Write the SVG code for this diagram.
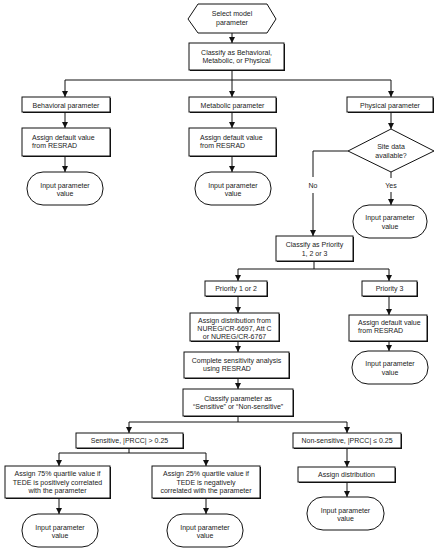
<svg xmlns="http://www.w3.org/2000/svg" width="436" height="550" viewBox="0 0 436 550">
<style>
text{font-family:"Liberation Sans",Arial,sans-serif;font-size:7px;fill:#222}
.c{text-anchor:middle}
.b{fill:#fff;stroke:#111;stroke-width:1}
.s{fill:#111;stroke:none}
.ln{fill:none;stroke:#111;stroke-width:1}
</style>
<defs>
<marker id="ah" viewBox="0 0 6 6" refX="6" refY="3" markerWidth="6" markerHeight="6" markerUnits="userSpaceOnUse" orient="auto">
<path d="M0,0 L6,3 L0,6 z" fill="#111"/>
</marker>
</defs>
<rect width="436" height="550" fill="#fff"/>

<g id="connectors">
<line class="ln" x1="232" y1="33" x2="232" y2="43" marker-end="url(#ah)"/>
<line class="ln" x1="232" y1="70" x2="232" y2="80"/>
<line class="ln" x1="65" y1="80" x2="391" y2="80"/>
<line class="ln" x1="65" y1="80" x2="65" y2="97" marker-end="url(#ah)"/>
<line class="ln" x1="232" y1="80" x2="232" y2="97" marker-end="url(#ah)"/>
<line class="ln" x1="391" y1="80" x2="391" y2="97" marker-end="url(#ah)"/>
<line class="ln" x1="65" y1="112" x2="65" y2="128" marker-end="url(#ah)"/>
<line class="ln" x1="232" y1="112" x2="232" y2="128" marker-end="url(#ah)"/>
<line class="ln" x1="391" y1="112" x2="391" y2="129" marker-end="url(#ah)"/>
<line class="ln" x1="65" y1="156" x2="65" y2="172" marker-end="url(#ah)"/>
<line class="ln" x1="232" y1="156" x2="232" y2="172" marker-end="url(#ah)"/>
<polyline class="ln" points="348,151 313,151 313,177"/>
<line class="ln" x1="313" y1="193" x2="313" y2="236" marker-end="url(#ah)"/>
<line class="ln" x1="391" y1="172" x2="391" y2="178"/>
<line class="ln" x1="391" y1="192" x2="391" y2="205" marker-end="url(#ah)"/>
<line class="ln" x1="314" y1="261" x2="314" y2="269"/>
<line class="ln" x1="238" y1="269" x2="389" y2="269"/>
<line class="ln" x1="238" y1="269" x2="238" y2="281" marker-end="url(#ah)"/>
<line class="ln" x1="389" y1="269" x2="389" y2="281" marker-end="url(#ah)"/>
<line class="ln" x1="238" y1="296" x2="238" y2="313" marker-end="url(#ah)"/>
<line class="ln" x1="389" y1="296" x2="389" y2="315" marker-end="url(#ah)"/>
<line class="ln" x1="389" y1="341" x2="389" y2="351" marker-end="url(#ah)"/>
<line class="ln" x1="238" y1="341" x2="238" y2="352" marker-end="url(#ah)"/>
<line class="ln" x1="238" y1="378" x2="238" y2="389" marker-end="url(#ah)"/>
<line class="ln" x1="238" y1="416" x2="238" y2="422"/>
<line class="ln" x1="129" y1="422" x2="347" y2="422"/>
<line class="ln" x1="129" y1="422" x2="129" y2="433" marker-end="url(#ah)"/>
<line class="ln" x1="347" y1="422" x2="347" y2="433" marker-end="url(#ah)"/>
<line class="ln" x1="129" y1="448" x2="129" y2="453"/>
<line class="ln" x1="59" y1="453" x2="206" y2="453"/>
<line class="ln" x1="59" y1="453" x2="59" y2="466" marker-end="url(#ah)"/>
<line class="ln" x1="206" y1="453" x2="206" y2="466" marker-end="url(#ah)"/>
<line class="ln" x1="59" y1="498" x2="59" y2="514" marker-end="url(#ah)"/>
<line class="ln" x1="206" y1="498" x2="206" y2="514" marker-end="url(#ah)"/>
<line class="ln" x1="347" y1="448" x2="347" y2="467" marker-end="url(#ah)"/>
<line class="ln" x1="347" y1="482" x2="347" y2="497" marker-end="url(#ah)"/>
<text class="c" x="313" y="187.5">No</text>
<text class="c" x="391" y="187.5">Yes</text>
</g>

<g id="start">
<polygon class="b" points="188,19 198,4 267,4 276,19 267,33 198,33"/>
<text class="c" x="232" y="15.5">Select model</text>
<text class="c" x="232" y="24.5">parameter</text>
</g>

<g id="classify-type">
<rect class="s" x="190" y="44" width="95" height="27"/>
<rect class="b" x="189" y="43" width="95" height="27"/>
<text class="c" x="236.5" y="54.5">Classify as Behavioral,</text>
<text class="c" x="236.5" y="62.5">Metabolic, or Physical</text>
</g>

<g id="behavioral">
<rect class="s" x="23" y="98" width="88" height="15"/>
<rect class="b" x="22" y="97" width="88" height="15"/>
<text class="c" x="66" y="107.5">Behavioral parameter</text>
</g>
<g id="metabolic">
<rect class="s" x="190" y="98" width="87" height="15"/>
<rect class="b" x="189" y="97" width="87" height="15"/>
<text class="c" x="232.5" y="107.5">Metabolic parameter</text>
</g>
<g id="physical">
<rect class="s" x="348" y="98" width="86" height="15"/>
<rect class="b" x="347" y="97" width="86" height="15"/>
<text class="c" x="390" y="107.5">Physical parameter</text>
</g>

<g id="assign-beh">
<rect class="s" x="23" y="129" width="88" height="28"/>
<rect class="b" x="22" y="128" width="88" height="28"/>
<text x="32" y="139.5">Assign default value</text>
<text x="32" y="147.5">from RESRAD</text>
</g>
<g id="assign-met">
<rect class="s" x="190" y="129" width="87" height="28"/>
<rect class="b" x="189" y="128" width="87" height="28"/>
<text x="200" y="139.5">Assign default value</text>
<text x="200" y="147.5">from RESRAD</text>
</g>

<g id="input-beh">
<rect class="b" x="27" y="172" width="76" height="33" rx="16" ry="16"/>
<text class="c" x="65" y="187.5">Input parameter</text>
<text class="c" x="65" y="196">value</text>
</g>
<g id="input-met">
<rect class="b" x="195" y="172" width="76" height="33" rx="16" ry="16"/>
<text class="c" x="233" y="187.5">Input parameter</text>
<text class="c" x="233" y="196">value</text>
</g>

<g id="site-data">
<polygon class="b" points="391,129 434,151 391,172 348,151"/>
<text class="c" x="391" y="148.5">Site data</text>
<text class="c" x="391" y="157.5">available?</text>
</g>

<g id="input-site">
<rect class="b" x="353" y="205" width="74" height="33" rx="16" ry="16"/>
<text class="c" x="390" y="219.5">Input parameter</text>
<text class="c" x="390" y="228.5">value</text>
</g>

<g id="classify-priority">
<rect class="s" x="277" y="237" width="77" height="25"/>
<rect class="b" x="276" y="236" width="77" height="25"/>
<text class="c" x="314.5" y="247">Classify as Priority</text>
<text class="c" x="314.5" y="255.5">1, 2 or 3</text>
</g>

<g id="priority12">
<rect class="s" x="206" y="282" width="62" height="15"/>
<rect class="b" x="205" y="281" width="62" height="15"/>
<text class="c" x="236" y="291">Priority 1 or 2</text>
</g>
<g id="priority3">
<rect class="s" x="363" y="282" width="55" height="15"/>
<rect class="b" x="362" y="281" width="55" height="15"/>
<text class="c" x="389.5" y="291">Priority 3</text>
</g>

<g id="assign-dist">
<rect class="s" x="191" y="314" width="89" height="28"/>
<rect class="b" x="190" y="313" width="89" height="28"/>
<text class="c" x="234.5" y="322.5">Assign distribution from</text>
<text class="c" x="234.5" y="330.5">NUREG/CR-6697, Att C</text>
<text class="c" x="234.5" y="338.5">or NUREG/CR-6767</text>
</g>

<g id="assign-p3">
<rect class="s" x="350" y="316" width="78" height="26"/>
<rect class="b" x="349" y="315" width="78" height="26"/>
<text x="358" y="324.5">Assign default value</text>
<text x="358" y="332.5">from RESRAD</text>
</g>
<g id="input-p3">
<rect class="b" x="352" y="351" width="76" height="33" rx="16" ry="16"/>
<text class="c" x="390" y="365.5">Input parameter</text>
<text class="c" x="390" y="374.5">value</text>
</g>

<g id="sensitivity">
<rect class="s" x="185" y="353" width="105" height="26"/>
<rect class="b" x="184" y="352" width="105" height="26"/>
<text class="c" x="236.5" y="362.5">Complete sensitivity analysis</text>
<text x="203" y="370.5">using RESRAD</text>
</g>

<g id="classify-sens">
<rect class="s" x="184" y="390" width="110" height="27"/>
<rect class="b" x="183" y="389" width="110" height="27"/>
<text class="c" x="238" y="400.5">Classify parameter as</text>
<text class="c" x="238" y="408.5">“Sensitive” or “Non-sensitive”</text>
</g>

<g id="sensitive">
<rect class="s" x="77" y="434" width="107" height="15"/>
<rect class="b" x="76" y="433" width="107" height="15"/>
<text class="c" x="129.5" y="443">Sensitive, |PRCC| &gt; 0.25</text>
</g>
<g id="nonsensitive">
<rect class="s" x="294" y="434" width="108" height="15"/>
<rect class="b" x="293" y="433" width="108" height="15"/>
<text class="c" x="347" y="443">Non-sensitive, |PRCC| ≤ 0.25</text>
</g>

<g id="assign75">
<rect class="s" x="6" y="467" width="105" height="32"/>
<rect class="b" x="5" y="466" width="105" height="32"/>
<text class="c" x="57.5" y="476">Assign 75% quartile value if</text>
<text class="c" x="57.5" y="484.5">TEDE is positively correlated</text>
<text class="c" x="57.5" y="493">with the parameter</text>
</g>
<g id="assign25">
<rect class="s" x="153" y="467" width="108" height="32"/>
<rect class="b" x="152" y="466" width="108" height="32"/>
<text class="c" x="206" y="476">Assign 25% quartile value if</text>
<text class="c" x="206" y="484.5">TEDE is negatively</text>
<text class="c" x="206" y="493">correlated with the parameter</text>
</g>

<g id="input75">
<rect class="b" x="22" y="514" width="76" height="33" rx="16" ry="16"/>
<text class="c" x="60" y="529.5">Input parameter</text>
<text class="c" x="60" y="538">value</text>
</g>
<g id="input25">
<rect class="b" x="167" y="514" width="76" height="33" rx="16" ry="16"/>
<text class="c" x="205" y="529.5">Input parameter</text>
<text class="c" x="205" y="538">value</text>
</g>

<g id="assign-distribution">
<rect class="s" x="299" y="468" width="97" height="15"/>
<rect class="b" x="298" y="467" width="97" height="15"/>
<text class="c" x="346.5" y="477">Assign distribution</text>
</g>
<g id="input-ns">
<rect class="b" x="307" y="497" width="77" height="33" rx="16" ry="16"/>
<text class="c" x="345.5" y="512.5">Input parameter</text>
<text class="c" x="345.5" y="521">value</text>
</g>
</svg>
